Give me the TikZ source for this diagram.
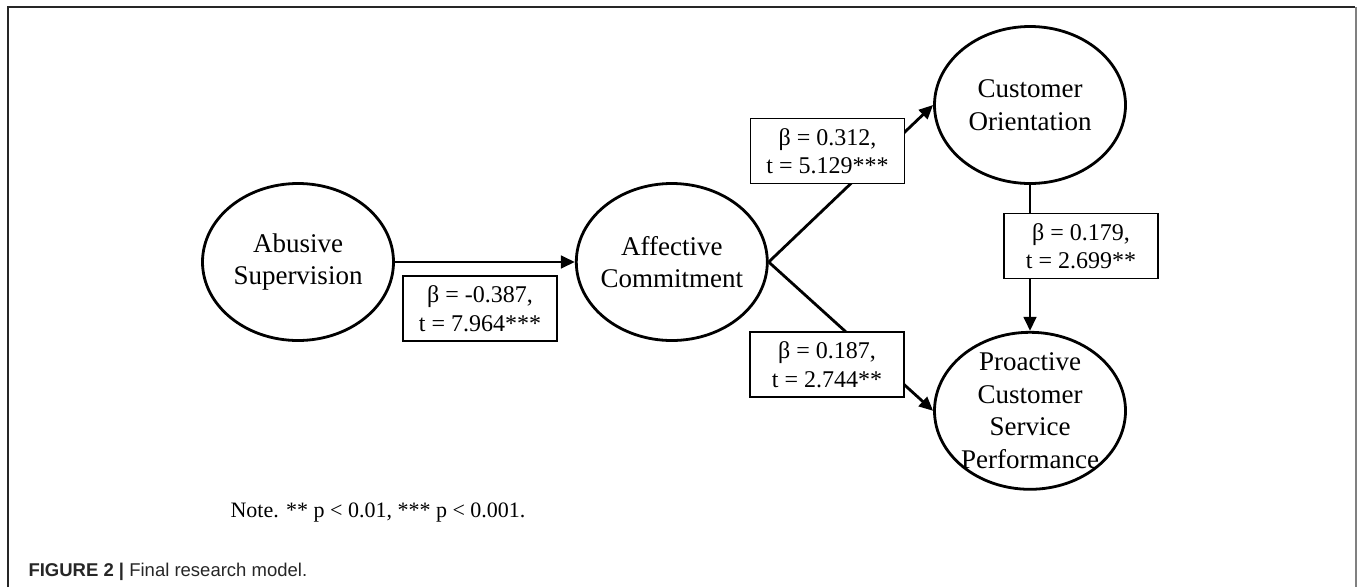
\documentclass[tikz,border=0pt]{standalone}
\usepackage{fontspec}
\setmainfont{Liberation Serif}
\newfontfamily\capsans{Liberation Sans}
\usetikzlibrary{positioning,shapes.geometric,arrows.meta}
\tikzset{>={Triangle[length=14pt,width=12.5pt]}}
\tikzset{
  latent/.style={draw,ellipse,line width=2.8pt,minimum width=191pt,minimum height=157pt,inner sep=0pt},
  lattext/.style={align=center,font=\fontsize{27}{32.5}\selectfont},
  coef/.style={draw,fill=white,line width=1.4pt,minimum width=154pt,minimum height=65pt,
    inner sep=2pt,align=center,font=\fontsize{24}{28.5}\selectfont},
  link/.style={line width=2.8pt},
}

\begin{document}
\begin{tikzpicture}[x=1pt,y=-1pt]
\useasboundingbox (0,0) rectangle (1357,587);
% frame
\draw[line width=1.3pt,black!85] (8,587) -- (8,7) -- (1355,7);
\draw[line width=2pt,black!50] (1355.5,7) -- (1355.5,587);
% constructs
\node[latent] (abuse) at (298,262) {};
\node[lattext] (abusetxt) at (abuse) {Abusive\\Supervision};
\node[latent,right=180pt of abuse] (affect) {};
\node[lattext] (affecttxt) at (affect) {Affective\\Commitment};
\node[latent] (custor) at (1030,105) {};
\node[lattext] (custortxt) at (custor) {Customer\\Orientation};
\node[latent,below=146pt of custor] (pcsp) {};
\node[lattext] (pcsptxt) at (pcsp) {Proactive\\Customer\\Service\\Performance};
% paths
\draw[link,->] (abuse.east) -- (affect.west);
\draw[link,->] (affect.east) -- (custor.west);
\draw[link,->] (affect.east) -- (pcsp.west);
\draw[link,->] (custor.south) -- (pcsp.north);
% coefficients
\node[coef] (cAA) at (480,308.5) {β = -0.387,\\t = 7.964***};
\node[coef] (cAC) at (827.5,151) {β = 0.312,\\t = 5.129***};
\node[coef] (cCP) at (1081,246) {β = 0.179,\\t = 2.699**};
\node[coef] (cAP) at (827,364.5) {β = 0.187,\\t = 2.744**};
% note and caption
\node[anchor=base west,font=\fontsize{22}{26}\selectfont] (note) at (227,517)
  {Note. ** p < 0.01, *** p < 0.001.};
\node[anchor=base west,font=\capsans\fontsize{18.5}{22}\selectfont,text=black!85] (caption)
  at (25,576) {\textbf{FIGURE 2 |} Final research model.};
\end{tikzpicture}
\end{document}
